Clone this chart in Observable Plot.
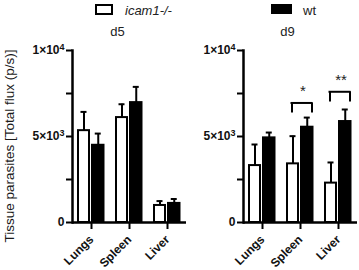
<!DOCTYPE html>
<html>
<head>
<meta charset="utf-8">
<script src="https://cdn.jsdelivr.net/npm/d3@7"></script>
<script src="https://cdn.jsdelivr.net/npm/@observablehq/plot@0.6"></script>
<style>
  html, body { margin: 0; padding: 0; background: #fff; }
  #wrap { position: relative; width: 359px; height: 270px; overflow: hidden; font-family: "Liberation Sans", Arial, sans-serif; color: #222; }
  .abs { position: absolute; }
  .panel svg { background: transparent !important; overflow: visible; }
</style>
</head>
<body>
<div id="wrap"></div>
<script>
// ---- data ----
const tissues = ["Lungs", "Spleen", "Liver"];
const groups = ["icam1-/-", "wt"];
const panelTitles = ["d5", "d9"];

const d5Icam = [5340, 6100, 990];
const d5IcamErr = [1090, 775, 255];
const d5Wt = [4490, 6970, 1110];
const d5WtErr = [680, 915, 255];

const d9Icam = [3310, 3410, 2290];
const d9IcamErr = [1225, 1610, 1200];
const d9Wt = [4920, 5540, 5870];
const d9WtErr = [310, 560, 700];

const yTicks = [0, 2500, 5000, 7500, 10000];
const yTickBase = ["0", "", "5×10", "", "1×10"];
const yTickExp = ["", "", "3", "", "4"];

const d9SigTissues = ["Spleen", "Liver"];
const d9SigMarks = ["*", "**"];
const d9SigLevels = [6950, 7600];
const d9SigLegEnds = [6360, 7000];

const yTitle = "Tissue parasites [Total flux (p/s)]";

// ---- build ----
const wrap = document.getElementById("wrap");

function rows(means, errs) {
  return tissues.map((t, i) => ({tissue: t, mean: means[i], top: means[i] + errs[i]}));
}

function panel(opts) {
  const icam = rows(opts.icam, opts.icamErr);
  const wt = rows(opts.wt, opts.wtErr);
  const sig = (opts.sigTissues || []).map((t, i) => ({tissue: t, mark: opts.sigMarks[i], level: opts.sigLevels[i], leg: opts.sigLegEnds[i]}));
  const marks = [
    Plot.ruleX(icam, {x: "tissue", y1: "mean", y2: "top", dx: -7.5, strokeWidth: 2, stroke: "#000"}),
    Plot.ruleX(wt, {x: "tissue", y1: "mean", y2: "top", dx: 6.75, strokeWidth: 2, stroke: "#000"}),
    Plot.tickY(icam, {x: "tissue", y: "top", insetLeft: 8.5, insetRight: 23.5, strokeWidth: 2, stroke: "#000"}),
    Plot.tickY(wt, {x: "tissue", y: "top", insetLeft: 22.75, insetRight: 9.25, strokeWidth: 2, stroke: "#000"}),
    Plot.barY(icam, {x: "tissue", y: "mean", fill: "white", stroke: "#000", strokeWidth: 2, insetLeft: 6, insetRight: 21}),
    Plot.barY(wt, {x: "tissue", y: "mean", fill: "#000", stroke: "#000", strokeWidth: 2, insetLeft: 20, insetRight: 6.5}),
    Plot.tickY(sig, {x: "tissue", y: "level", insetLeft: 9.5, insetRight: 6.5, strokeWidth: 2, stroke: "#000"}),
    Plot.ruleX(sig, {x: "tissue", y1: "leg", y2: "level", dx: -8.5, strokeWidth: 2, stroke: "#000"}),
    Plot.ruleX(sig, {x: "tissue", y1: "leg", y2: "level", dx: 11.5, strokeWidth: 2, stroke: "#000"}),
    Plot.text(sig, {x: "tissue", y: "level", text: "mark", dx: 2.5, dy: -7, lineAnchor: "bottom", fontSize: 15, fill: "#222"}),
    Plot.axisY({ticks: yTicks, tickFormat: (d) => { const i = yTicks.indexOf(d); return yTickExp[i] ? yTickBase[i] + "^" + yTickExp[i] : yTickBase[i]; }, tickSize: 6, tickPadding: 2, strokeWidth: 2, stroke: "#000", fontSize: 12, fontWeight: "bold", fill: "#111", label: null}),
    Plot.axisX({tickRotate: -45, tickSize: 7, tickPadding: 8, strokeWidth: 2, stroke: "#000", fontSize: 12, fontWeight: "bold", fill: "#111", label: null}),
    Plot.frame({anchor: "left", strokeWidth: 2.5, stroke: "#000"}),
    Plot.ruleY([0], {strokeWidth: 2.5, stroke: "#000"})
  ];
  const chart = Plot.plot({
    width: opts.width,
    height: 270,
    marginTop: 50,
    marginBottom: 48,
    marginLeft: opts.marginLeft,
    marginRight: opts.marginRight,
    x: {domain: tissues, padding: 0, label: null},
    y: {domain: [0, 10000], label: null},
    style: {fontFamily: "'Liberation Sans', Arial, sans-serif", color: "#222", background: "transparent", overflow: "visible"},
    marks
  });
  d3.select(chart).selectAll("text").each(function () {
    const t = this.textContent;
    if (t.includes("^") && this.children.length === 0) {
      const [base, exp] = t.split("^");
      const sel = d3.select(this);
      sel.text(null);
      sel.append("tspan").text(base);
      sel.append("tspan").attr("dy", "-0.45em").attr("font-size", "9px").text(exp);
    }
  });
  const holder = document.createElement("div");
  holder.className = "abs panel";
  holder.style.left = opts.left + "px";
  holder.style.top = "0px";
  holder.appendChild(chart);
  wrap.appendChild(holder);
}

panel({left: 0, width: 190, marginLeft: 72, marginRight: 4, icam: d5Icam, icamErr: d5IcamErr, wt: d5Wt, wtErr: d5WtErr});
panel({left: 180, width: 179, marginLeft: 63, marginRight: 2, icam: d9Icam, icamErr: d9IcamErr, wt: d9Wt, wtErr: d9WtErr,
  sigTissues: d9SigTissues, sigMarks: d9SigMarks, sigLevels: d9SigLevels, sigLegEnds: d9SigLegEnds});

function addText(txt, x, y, css) {
  const d = document.createElement("div");
  d.className = "abs";
  d.textContent = txt;
  d.style.left = x + "px";
  d.style.top = y + "px";
  d.style.whiteSpace = "nowrap";
  Object.assign(d.style, css || {});
  wrap.appendChild(d);
  return d;
}

addText(panelTitles[0], 117.5, 31, {transform: "translate(-50%,-50%)", fontSize: "13px"});
addText(panelTitles[1], 287.5, 31, {transform: "translate(-50%,-50%)", fontSize: "13px"});

addText(yTitle, 9, 146, {transform: "translate(-50%,-50%) rotate(-90deg)", fontSize: "13.5px", color: "#1a1a1a"});

const box1 = document.createElement("div");
box1.className = "abs";
Object.assign(box1.style, {left: "95px", top: "4px", width: "18px", height: "11px", border: "2px solid #000", boxSizing: "border-box", background: "#fff"});
wrap.appendChild(box1);
addText(groups[0], 125, 10, {transform: "translateY(-50%)", fontSize: "13px", fontStyle: "italic"});
const box2 = document.createElement("div");
box2.className = "abs";
Object.assign(box2.style, {left: "271px", top: "4px", width: "21px", height: "10px", background: "#000"});
wrap.appendChild(box2);
addText(groups[1], 303, 10, {transform: "translateY(-50%)", fontSize: "13px"});
</script>
</body>
</html>
